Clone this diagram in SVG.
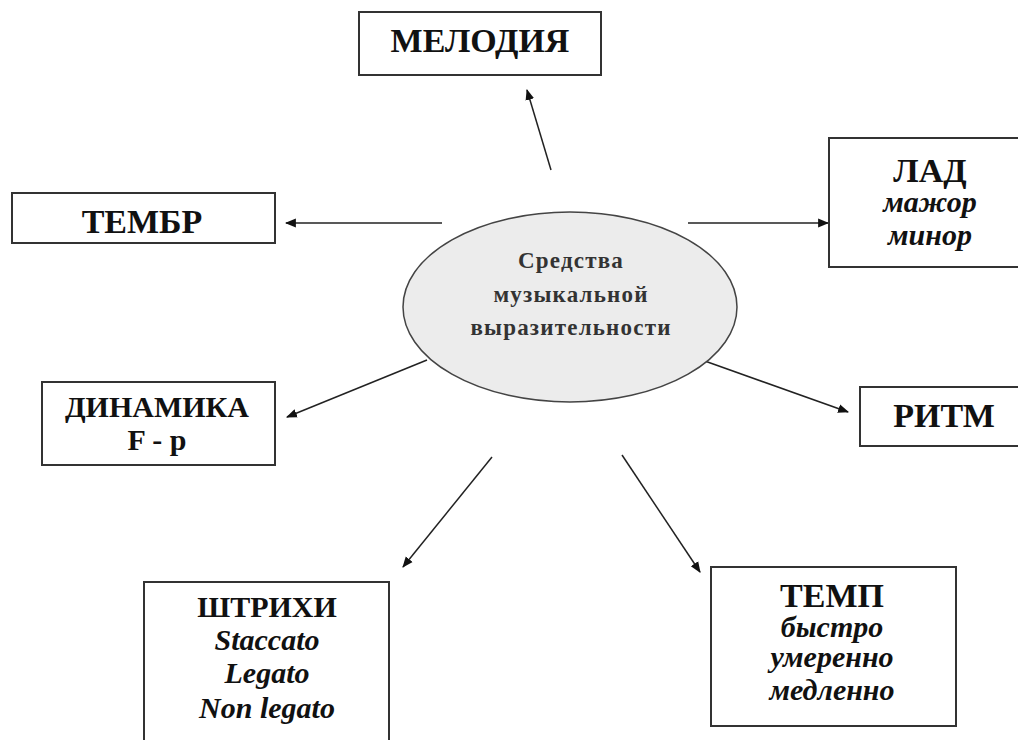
<svg xmlns="http://www.w3.org/2000/svg" width="1018" height="740" viewBox="0 0 1018 740">
<style>
.box{fill:#fff;stroke:#333;stroke-width:2}
.t{font-family:'Liberation Serif','Times New Roman','DejaVu Serif',serif;font-weight:700;fill:#111;text-anchor:middle}
.h{font-size:34px}
.m{font-size:30px}
.s{font-size:30px;font-style:italic}
.c{font-size:23px;fill:#333;letter-spacing:1.2px}
.ln{stroke:#222;stroke-width:1.5;fill:none;marker-end:url(#ah)}
</style>
<defs>
<marker id="ah" viewBox="0 0 10 10" refX="9" refY="5" markerWidth="11" markerHeight="11" markerUnits="userSpaceOnUse" orient="auto">
<path d="M0,1 L10,5 L0,9 z" fill="#111"/>
</marker>
</defs>
<rect width="1018" height="740" fill="#fff"/>
<g id="connectors">
<line class="ln" x1="551" y1="170" x2="527" y2="90"/>
<line class="ln" x1="688" y1="223" x2="828" y2="223"/>
<line class="ln" x1="442" y1="223" x2="286" y2="223"/>
<line class="ln" x1="427" y1="360" x2="287" y2="417"/>
<line class="ln" x1="702" y1="360" x2="848" y2="412"/>
<line class="ln" x1="492" y1="457" x2="403" y2="567"/>
<line class="ln" x1="622" y1="455" x2="700" y2="572"/>
</g>
<g id="center">
<ellipse cx="570" cy="307" rx="167" ry="95" fill="#ececec" stroke="#444" stroke-width="1.5"/>
<text class="t c" x="571" y="268">Средства</text>
<text class="t c" x="571" y="302">музыкальной</text>
<text class="t c" x="571" y="335">выразительности</text>
</g>
<g id="melodiya">
<rect class="box" x="359" y="12" width="242" height="63"/>
<text class="t h" x="480" y="52">МЕЛОДИЯ</text>
</g>
<g id="lad">
<rect class="box" x="829" y="138" width="200" height="129"/>
<text class="t h" x="930" y="182">ЛАД</text>
<text class="t s" x="930" y="212">мажор</text>
<text class="t s" x="930" y="245">минор</text>
</g>
<g id="tembr">
<rect class="box" x="12" y="193" width="263" height="50"/>
<text class="t h" x="142" y="233">ТЕМБР</text>
</g>
<g id="dinamika">
<rect class="box" x="42" y="382" width="233" height="83"/>
<text class="t m" x="157" y="417">ДИНАМИКА</text>
<text class="t m" x="157" y="450">F - p</text>
</g>
<g id="ritm">
<rect class="box" x="860" y="387" width="170" height="59"/>
<text class="t h" x="944" y="427">РИТМ</text>
</g>
<g id="shtrihi">
<rect class="box" x="144" y="582" width="245" height="170"/>
<text class="t m" x="267" y="617">ШТРИХИ</text>
<text class="t s" x="267" y="650">Staccato</text>
<text class="t s" x="267" y="683">Legato</text>
<text class="t s" x="267" y="718">Non legato</text>
</g>
<g id="temp">
<rect class="box" x="711" y="567" width="245" height="159"/>
<text class="t h" x="832" y="607">ТЕМП</text>
<text class="t s" x="832" y="637">быстро</text>
<text class="t s" x="832" y="667">умеренно</text>
<text class="t s" x="832" y="700">медленно</text>
</g>
</svg>
